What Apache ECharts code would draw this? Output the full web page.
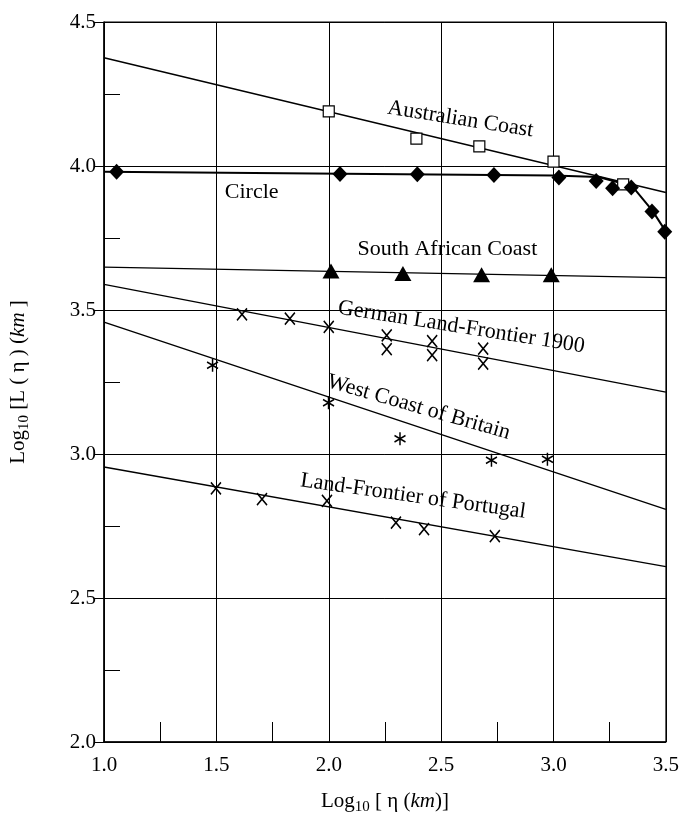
<!DOCTYPE html>
<html><head><meta charset="utf-8">
<script src="https://cdn.jsdelivr.net/npm/echarts@6/dist/echarts.min.js"></script>
<style>html,body{margin:0;padding:0;background:#fff}#c{width:682px;height:832px}</style>
</head><body><div id="c"></div>
<script>
// ---- data ----
const australiaX = [2.00, 2.39, 2.67, 3.00, 3.31];
const australiaY = [4.19, 4.095, 4.068, 4.015, 3.936];
const australiaFitX = [1.0, 3.5];
const australiaFitY = [4.376, 3.908];

const circleX = [1.056, 2.05, 2.394, 2.735, 3.024, 3.19, 3.263, 3.346, 3.438, 3.495];
const circleY = [3.98, 3.972, 3.971, 3.969, 3.96, 3.948, 3.923, 3.925, 3.842, 3.772];
const circleCurveX = [1.0, 3.0, 3.2, 3.35, 3.44, 3.5];
const circleCurveY = [3.98, 3.967, 3.962, 3.93, 3.845, 3.772];

const southAfricaX = [2.01, 2.33, 2.68, 2.99];
const southAfricaY = [3.635, 3.627, 3.622, 3.622];
const southAfricaFitX = [1.0, 3.5];
const southAfricaFitY = [3.649, 3.6125];

const germanX = [1.614, 1.827, 2.0, 2.258, 2.258, 2.46, 2.46, 2.687, 2.687];
const germanY = [3.485, 3.47, 3.441, 3.412, 3.364, 3.392, 3.343, 3.366, 3.314];
const germanFitX = [1.0, 3.5];
const germanFitY = [3.589, 3.215];

const britainX = [1.483, 1.999, 2.317, 2.724, 2.973];
const britainY = [3.308, 3.178, 3.053, 2.978, 2.982];
const britainFitX = [1.0, 3.5];
const britainFitY = [3.458, 2.808];

const portugalX = [1.498, 1.703, 1.992, 2.299, 2.424, 2.739];
const portugalY = [2.881, 2.843, 2.837, 2.762, 2.739, 2.715];
const portugalFitX = [1.0, 3.5];
const portugalFitY = [2.955, 2.609];

const annotText = ['Australian Coast', 'Circle', 'South African Coast', 'German Land-Frontier 1900', 'West Coast of Britain', 'Land-Frontier of Portugal'];
const annotX = [2.586, 1.657, 2.528, 2.59, 2.40, 2.375];
const annotY = [4.162, 3.909, 3.711, 3.44, 3.162, 2.853];

const xTicks = [1.0, 1.5, 2.0, 2.5, 3.0, 3.5];
const yTicks = [2.0, 2.5, 3.0, 3.5, 4.0, 4.5];

// ---- styles ----
const FONT = 'Liberation Serif';
const annotRotate = [-9, 0, 0, -9, -16, -8];
const zip = (xs, ys) => xs.map((x, i) => [x, ys[i]]);
const fitLine = (xs, ys, w) => ({
  type: 'line', data: zip(xs, ys), symbol: 'none', silent: true,
  lineStyle: { color: '#000', width: w || 1.4, opacity: 1 }, z: 3
});
const XMARK = 'path://M0,0L10,12M10,0L0,12';
const STAR = 'path://M5,0L5,12M0,3L10,9M0,9L10,3';
const strokeSym = { color: 'rgba(0,0,0,0)', borderColor: '#000', borderWidth: 1.6, opacity: 1 };

const chart = echarts.init(document.getElementById('c'), null, { renderer: 'canvas' });
chart.setOption({
  animation: false,
  backgroundColor: '#fff',
  textStyle: { fontFamily: FONT, color: '#000' },
  grid: { left: 101, right: 12, top: 22, bottom: 90, show: true, borderColor: '#000', borderWidth: 1 },
  xAxis: [{
    type: 'value', min: 1.0, max: 3.5, interval: 0.5,
    axisLine: { lineStyle: { color: '#000', width: 1.5 } },
    axisTick: { show: false },
    axisLabel: { color: '#000', fontFamily: FONT, fontSize: 21, margin: 13, formatter: v => v.toFixed(1) },
    splitLine: { show: true, lineStyle: { color: '#000', width: 1 } },
    name: '{t|Log}{s|10}{t| [ η (}{i|km}{t|)]}',
    nameLocation: 'middle', nameGap: 46,
    nameTextStyle: { rich: {
      t: { fontFamily: FONT, fontSize: 21, color: '#000' },
      i: { fontFamily: FONT, fontSize: 21, fontStyle: 'italic', color: '#000' },
      s: { fontFamily: FONT, fontSize: 15, color: '#000', padding: [12, 0, 0, 0] }
    } }
  }, {
    type: 'value', min: 1.0, max: 3.5, interval: 0.25, position: 'bottom',
    axisLine: { show: false }, axisLabel: { show: false }, splitLine: { show: false },
    axisTick: { show: true, inside: true, length: 20, lineStyle: { color: '#000', width: 1 } }
  }],
  yAxis: [{
    type: 'value', min: 2.0, max: 4.5, interval: 0.5,
    axisLine: { show: true, lineStyle: { color: '#000', width: 1.5 } },
    axisTick: { show: true, length: 10, lineStyle: { color: '#000' } },
    axisLabel: { color: '#000', fontFamily: FONT, fontSize: 21, margin: 8, formatter: v => v.toFixed(1) },
    splitLine: { show: true, lineStyle: { color: '#000', width: 1 } },
    name: '{t|Log}{s|10}{t| [L ( η ) (}{i|km}{t| ]}',
    nameLocation: 'middle', nameGap: 72, nameRotate: 90,
    nameTextStyle: { rich: {
      t: { fontFamily: FONT, fontSize: 21, color: '#000' },
      i: { fontFamily: FONT, fontSize: 21, fontStyle: 'italic', color: '#000' },
      s: { fontFamily: FONT, fontSize: 15, color: '#000', padding: [12, 0, 0, 0] }
    } }
  }, {
    type: 'value', min: 2.0, max: 4.5, interval: 0.25, position: 'left',
    axisLine: { show: false }, axisLabel: { show: false }, splitLine: { show: false },
    axisTick: { show: true, inside: true, length: 16, lineStyle: { color: '#000', width: 1 } }
  }],
  series: [
    fitLine(australiaFitX, australiaFitY),
    fitLine(circleCurveX, circleCurveY, 2),
    fitLine(southAfricaFitX, southAfricaFitY),
    fitLine(germanFitX, germanFitY),
    fitLine(britainFitX, britainFitY),
    fitLine(portugalFitX, portugalFitY),
    { type: 'scatter', data: zip(australiaX, australiaY), symbol: 'rect', symbolSize: 11,
      itemStyle: { color: '#fff', borderColor: '#000', borderWidth: 1.2, opacity: 1 }, z: 5 },
    { type: 'scatter', data: zip(circleX, circleY), symbol: 'diamond', symbolSize: [15, 16],
      itemStyle: { color: '#000', opacity: 1 }, z: 5 },
    { type: 'scatter', data: zip(southAfricaX, southAfricaY), symbol: 'triangle', symbolSize: [17, 15],
      itemStyle: { color: '#000', opacity: 1 }, z: 5 },
    { type: 'scatter', data: zip(germanX, germanY), symbol: XMARK, symbolSize: [10, 12],
      itemStyle: strokeSym, z: 5 },
    { type: 'scatter', data: zip(britainX, britainY), symbol: STAR, symbolSize: [11, 13],
      itemStyle: strokeSym, z: 5 },
    { type: 'scatter', data: zip(portugalX, portugalY), symbol: XMARK, symbolSize: [10, 12],
      itemStyle: strokeSym, z: 5 },
    { type: 'scatter', symbolSize: 0, silent: true, z: 6, itemStyle: { opacity: 1 },
      data: annotText.map((t, i) => ({ value: [annotX[i], annotY[i]], name: t,
        label: { show: true, position: 'inside', formatter: t, rotate: annotRotate[i],
          fontFamily: FONT, fontSize: 22, color: '#000', opacity: 1 } })) }
  ]
});
</script></body></html>
